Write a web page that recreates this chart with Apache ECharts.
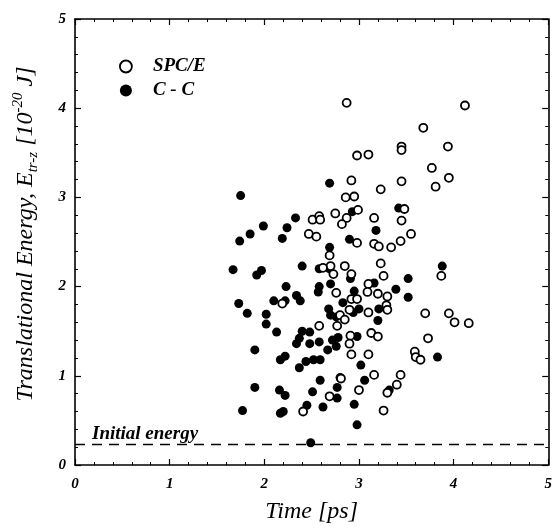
<!DOCTYPE html>
<html>
<head>
<meta charset="utf-8">
<script src="https://cdn.jsdelivr.net/npm/echarts@6/dist/echarts.min.js"></script>
<style>
	html, body { margin: 0; padding: 0; background: #fff; }
	#chart { width: 555px; height: 529px; }
</style>
</head>
<body>
<div id="chart"></div>
<script>
// SPC/E (open circles)
const spceTime = [2.87, 4.12, 3.68, 3.45, 3.45, 3.94, 2.98, 3.10, 3.77, 3.95, 2.92, 3.45, 3.81, 3.23, 2.86, 2.95, 2.51, 2.58, 2.59, 2.75, 2.87, 2.82, 2.99, 3.16, 3.48, 3.45, 3.55, 3.44, 2.47, 2.55, 2.98, 3.16, 3.21, 3.34, 2.69, 2.70, 2.85, 2.73, 2.92, 3.23, 3.26, 3.87, 2.62, 2.76, 3.10, 3.09, 3.20, 3.30, 3.29, 3.30, 2.92, 2.98, 3.10, 2.19, 2.80, 2.85, 2.77, 3.70, 3.95, 4.01, 4.16, 2.58, 3.13, 3.20, 3.73, 2.91, 2.90, 2.92, 3.10, 3.59, 3.60, 3.65, 3.16, 3.44, 3.40, 3.30, 3.00, 2.69, 2.41, 3.26, 2.81, 2.90];
const spceEnergy = [4.06, 4.03, 3.78, 3.57, 3.53, 3.57, 3.47, 3.48, 3.33, 3.22, 3.19, 3.18, 3.12, 3.09, 3.00, 3.01, 2.75, 2.79, 2.75, 2.82, 2.77, 2.70, 2.86, 2.77, 2.87, 2.74, 2.59, 2.51, 2.59, 2.56, 2.49, 2.48, 2.45, 2.44, 2.35, 2.23, 2.23, 2.14, 2.14, 2.26, 2.12, 2.12, 2.21, 1.93, 2.03, 1.94, 1.92, 1.89, 1.79, 1.74, 1.86, 1.86, 1.71, 1.81, 1.68, 1.63, 1.56, 1.70, 1.70, 1.60, 1.59, 1.56, 1.48, 1.44, 1.42, 1.45, 1.36, 1.24, 1.24, 1.27, 1.21, 1.18, 1.01, 1.01, 0.90, 0.81, 0.84, 0.77, 0.60, 0.61, 0.97, 1.74];

// C - C (filled circles)
const ccTime = [1.75, 2.69, 2.33, 1.99, 2.24, 1.85, 1.74, 2.19, 2.90, 2.69, 2.93, 3.42, 3.18, 1.67, 1.97, 1.92, 2.40, 2.58, 2.69, 2.23, 2.58, 2.70, 2.57, 2.91, 3.16, 3.52, 3.88, 3.52, 3.39, 2.95, 2.34, 2.38, 2.10, 2.22, 1.73, 1.82, 2.02, 2.02, 2.68, 2.70, 2.76, 2.94, 3.00, 3.20, 3.21, 2.83, 2.13, 2.40, 2.48, 2.37, 2.34, 2.48, 2.58, 2.67, 2.72, 2.78, 2.76, 2.98, 1.90, 2.17, 2.22, 2.37, 2.44, 2.52, 2.59, 3.02, 3.83, 1.90, 2.16, 2.22, 2.51, 2.59, 2.77, 2.77, 2.80, 3.06, 3.32, 1.77, 2.17, 2.20, 2.45, 2.62, 2.95, 2.98, 2.49];
const ccEnergy = [3.02, 3.16, 2.77, 2.68, 2.66, 2.59, 2.51, 2.54, 2.53, 2.44, 2.84, 2.88, 2.63, 2.19, 2.18, 2.13, 2.23, 2.20, 2.20, 2.00, 2.00, 2.03, 1.94, 2.09, 2.04, 2.09, 2.23, 1.88, 1.97, 1.95, 1.90, 1.84, 1.84, 1.84, 1.81, 1.70, 1.69, 1.58, 1.75, 1.68, 1.66, 1.71, 1.75, 1.62, 1.75, 1.82, 1.49, 1.50, 1.49, 1.42, 1.36, 1.36, 1.38, 1.29, 1.40, 1.43, 1.33, 1.44, 1.29, 1.18, 1.22, 1.09, 1.16, 1.18, 1.18, 1.12, 1.21, 0.87, 0.84, 0.78, 0.82, 0.95, 0.87, 0.75, 0.98, 0.95, 0.84, 0.61, 0.58, 0.60, 0.67, 0.65, 0.68, 0.45, 0.25];

const initialEnergy = 0.23;

const serif = "'Liberation Serif', 'DejaVu Serif', serif";

const toPoints = (xs, ys) => xs.map((x, i) => [x, ys[i]]);

const chart = echarts.init(document.getElementById("chart"));

const tickLabel = {
	fontFamily: serif,
	fontStyle: "italic",
	fontWeight: "bold",
	fontSize: 15,
	color: "#000"
};
const frameAxis = {
	min: 0,
	max: 5,
	interval: 1,
	axisLine: { show: true, onZero: false, lineStyle: { color: "#000", width: 1.6 } },
	axisTick: { show: true, inside: true, length: 6, lineStyle: { color: "#000", width: 1.2 } },
	minorTick: { show: true, splitNumber: 5, length: 3, lineStyle: { color: "#000", width: 1 } },
	splitLine: { show: false }
};

const option = {
	backgroundColor: "#fff",
	animation: false,
	grid: { left: 75, right: 5, top: 19, bottom: 57 },
	legend: {
		orient: "vertical",
		left: 114,
		top: 52,
		itemWidth: 12,
		itemHeight: 12,
		itemGap: 5,
		textStyle: {
			fontFamily: serif,
			fontStyle: "italic",
			fontWeight: "bold",
			fontSize: 19,
			color: "#000",
			padding: [0, 0, 0, 16]
		},
		data: [
			{ name: "SPC/E", icon: "circle", itemStyle: { color: "#fff", borderColor: "#000", borderWidth: 1.8 } },
			{ name: "C - C", icon: "circle", itemStyle: { color: "#000", borderWidth: 0 } }
		]
	},
	xAxis: [
		{
			...frameAxis,
			type: "value",
			position: "bottom",
			name: "Time [ps]",
			nameLocation: "middle",
			nameGap: 35,
			nameTextStyle: { fontFamily: serif, fontStyle: "italic", fontSize: 24, color: "#000" },
			axisLabel: { ...tickLabel, margin: 12 }
		},
		{
			...frameAxis,
			type: "value",
			position: "top",
			axisLabel: { show: false }
		}
	],
	yAxis: [
		{
			...frameAxis,
			type: "value",
			position: "left",
			name: "Translational Energy, E{sub|tr-z} [10{sup|-20} J]",
			nameLocation: "middle",
			nameGap: 34,
			nameTextStyle: {
				fontFamily: serif,
				fontStyle: "italic",
				fontSize: 24,
				color: "#000",
				lineHeight: 30,
				padding: [0, 0, 0, 16],
				rich: {
					sub: { fontFamily: serif, fontStyle: "italic", fontSize: 15, color: "#000", verticalAlign: "bottom", lineHeight: 22 },
					sup: { fontFamily: serif, fontStyle: "italic", fontSize: 15, color: "#000", verticalAlign: "top", lineHeight: 22 }
				}
			},
			axisLabel: { ...tickLabel, margin: 9 }
		},
		{
			...frameAxis,
			type: "value",
			position: "right",
			axisLabel: { show: false }
		}
	],
	series: [
		{
			name: "C - C",
			type: "scatter",
			symbol: "circle",
			symbolSize: 9,
			itemStyle: { color: "#000", opacity: 1 },
			data: toPoints(ccTime, ccEnergy),
			markLine: {
				silent: true,
				symbol: "none",
				lineStyle: { color: "#000", type: [10, 7], width: 1.4 },
				label: {
					show: true,
					position: "insideStartTop",
					formatter: "Initial energy",
					distance: [17, 1],
					fontFamily: serif,
					fontStyle: "italic",
					fontWeight: "bold",
					fontSize: 19,
					color: "#000"
				},
				data: [{ yAxis: initialEnergy }]
			}
		},
		{
			name: "SPC/E",
			type: "scatter",
			symbol: "circle",
			symbolSize: 8,
			itemStyle: { color: "#fff", borderColor: "#000", borderWidth: 1.8, opacity: 1 },
			data: toPoints(spceTime, spceEnergy)
		}
	]
};

chart.setOption(option);
</script>
</body>
</html>
